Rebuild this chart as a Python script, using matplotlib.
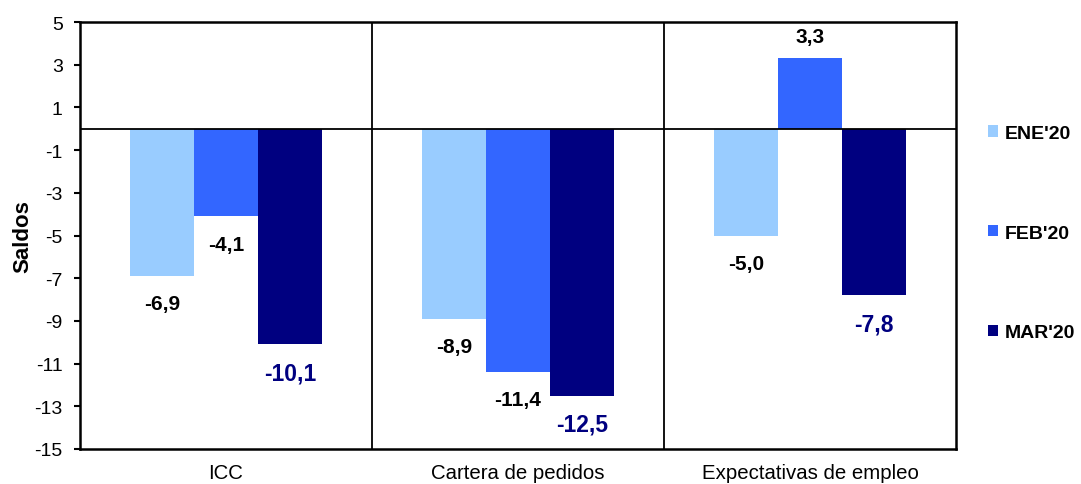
import numpy as np
import matplotlib.pyplot as plt

plt.rcParams['font.family'] = ['Liberation Sans', 'DejaVu Sans']
plt.rcParams['axes.unicode_minus'] = False

categorias = ['ICC', 'Cartera de pedidos', 'Expectativas de empleo']
series = ["ENE'20", "FEB'20", "MAR'20"]
ene = [-6.9, -8.9, -5.0]
feb = [-4.1, -11.4, 3.3]
mar = [-10.1, -12.5, -7.8]
colores = ['#99CCFF', '#3366FF', '#000080']
color_etiq = ['black', 'black', '#000080']
tam_etiq = [15, 15, 16.5]

fig = plt.figure(figsize=(10.81, 4.85), dpi=100)
ax = fig.add_axes([80/1081, 1 - 450/485, (956-80)/1081, (450-23)/485])

x = np.arange(len(categorias))
w = 0.22
for i, (vals, nom) in enumerate(zip([ene, feb, mar], series)):
    pos = x + (i - 1) * w
    ax.bar(pos, vals, w, color=colores[i], label=nom, zorder=2)
    for p, v in zip(pos, vals):
        txt = f'{v:.1f}'.replace('.', ',')
        off = 1.0 if v >= 0 else (-1.35 if i == 2 else -1.3)
        ax.text(p, v + off, txt, ha='center', va='center', fontsize=tam_etiq[i],
                fontweight='bold', color=color_etiq[i])

ax.axhline(0, color='black', lw=1.3, zorder=3)
for s in [0.5, 1.5]:
    ax.axvline(s, color='black', lw=1.3, zorder=3)

ax.set_xlim(-0.5, 2.5)
ax.set_ylim(-15, 5)
ax.set_yticks(np.arange(-15, 6, 2))
ax.set_xticks(x)
ax.set_xticklabels(categorias, fontsize=14.7)
ax.tick_params(axis='x', length=0, pad=10)
ax.tick_params(axis='y', labelsize=14, length=4.5, width=1.5, direction='out', pad=8)
for sp in ax.spines.values():
    sp.set_linewidth(1.8)
ax.set_ylabel('Saldos', fontsize=16, fontweight='bold', labelpad=1)

fig.legend(loc='upper left', bbox_to_anchor=(988/1081, 1 - 126/485),
           frameon=False, handlelength=0.52, handleheight=0.52,
           handletextpad=0.35, labelspacing=4.25, borderpad=0, borderaxespad=0,
           prop={'size': 14, 'weight': 'bold'})

plt.savefig('out.png', dpi=100)
